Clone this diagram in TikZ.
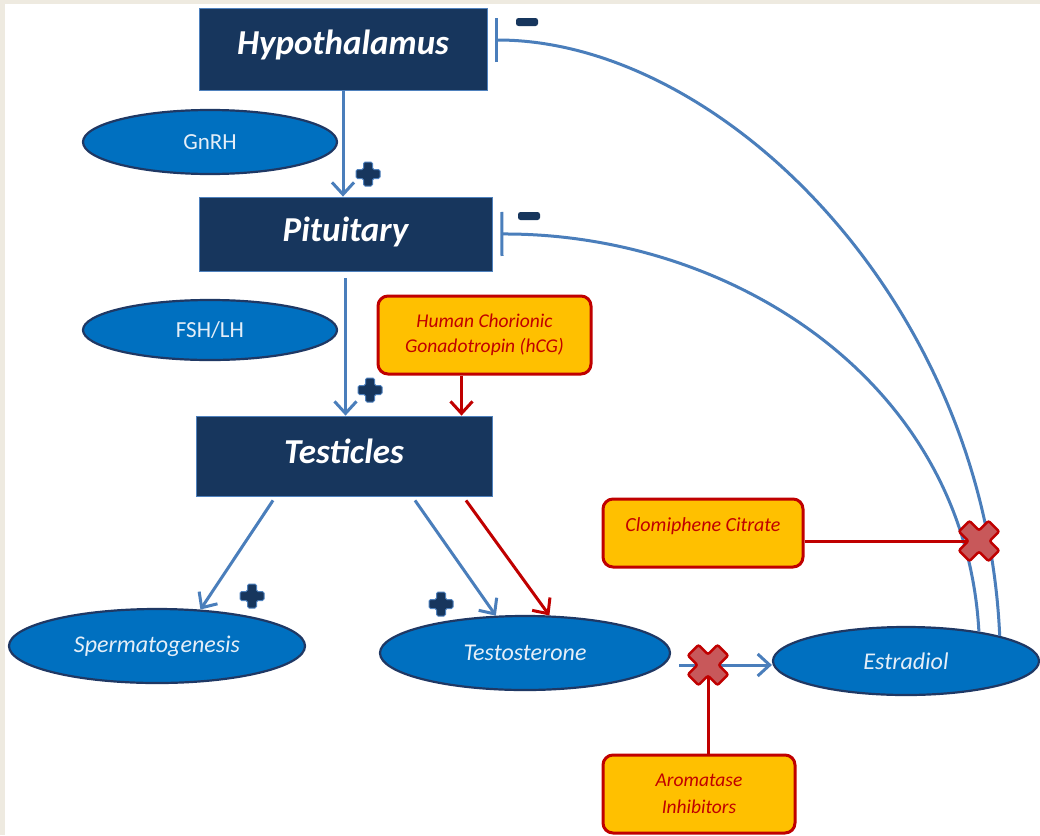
\documentclass[tikz,border=0pt]{standalone}
\usepackage{fontspec}
\setmainfont{Carlito}
\usetikzlibrary{arrows.meta,shapes.geometric,calc}
\definecolor{navy}{HTML}{17365D}
\definecolor{boxedge}{HTML}{4F81BD}
\definecolor{ellfill}{HTML}{0070C0}
\definecolor{elledge}{HTML}{1F3864}
\definecolor{elltext}{HTML}{E4EEF8}
\definecolor{blueline}{HTML}{4A7EBB}
\definecolor{redline}{HTML}{C00000}
\definecolor{orangefill}{HTML}{FFC000}
\definecolor{xfill}{HTML}{C8585A}
\definecolor{beige}{HTML}{EEEAE0}
\tikzset{
  organ/.style={rectangle,fill=navy,draw=boxedge,line width=0.8pt,text=white,
    font=\fontsize{35}{42}\selectfont\bfseries\itshape,inner sep=0pt},
  hormone/.style={ellipse,fill=ellfill,draw=elledge,line width=2.2pt,text=elltext,
    font=\fontsize{23}{27}\selectfont,inner sep=0pt},
  horit/.style={hormone,font=\fontsize{24}{28}\selectfont\itshape},
  drugbox/.style={rectangle,rounded corners=10pt,fill=orangefill,draw=redline,line width=3pt,
    text=redline,font=\fontsize{19.5}{25}\selectfont\itshape,align=center,inner sep=0pt},
  bluearrow/.style={draw=blueline,line width=3pt,-{Straight Barb[length=12pt,width=22pt]}},
  redarrow/.style={draw=redline,line width=3pt,-{Straight Barb[length=12pt,width=22pt]}},
  redlink/.style={draw=redline,line width=3pt},
  inhibit/.style={draw=blueline,line width=3pt,{Bar[width=44pt]}-},
  plussign/.pic={\filldraw[fill=navy,draw=boxedge,line width=1pt,rounded corners=1.5pt]
    (-4.5,-12) -- (4.5,-12) -- (4.5,-4.5) -- (12,-4.5) -- (12,4.5) -- (4.5,4.5) -- (4.5,12) -- (-4.5,12)
    -- (-4.5,4.5) -- (-12,4.5) -- (-12,-4.5) -- (-4.5,-4.5) -- cycle;},
  minussign/.pic={\fill[navy,rounded corners=2.5pt] (-11,-4) rectangle (11,4);},
  xmark/.pic={\filldraw[rotate=45,fill=xfill,draw=redline,line width=2.5pt,rounded corners=2pt]
    (-7.5,-21) -- (7.5,-21) -- (7.5,-7.5) -- (21,-7.5) -- (21,7.5) -- (7.5,7.5) -- (7.5,21) -- (-7.5,21)
    -- (-7.5,7.5) -- (-21,7.5) -- (-21,-7.5) -- (-7.5,-7.5) -- cycle;}
}
\begin{document}
\begin{tikzpicture}[x=1pt,y=-1pt]
\useasboundingbox (0,0) rectangle (1040,835);
\fill[beige] (0,0) rectangle (1040,835);
\fill[white] (5,4) rectangle (1040,835);

% organs
\node[organ,minimum width=288pt,minimum height=82pt,text depth=14pt] (hyp) at (343,49) {Hypothalamus};
\node[organ,minimum width=293pt,minimum height=74pt,text depth=10pt] (pit) at (345.5,234) {Pituitary};
\node[organ,minimum width=296pt,minimum height=80pt,text depth=10pt] (tes) at (344,456) {Testicles};

% hormones
\node[hormone,minimum width=254pt,minimum height=64pt] (gnrh) at (210,142) {GnRH};
\node[hormone,minimum width=254pt,minimum height=60pt] (fsh) at (210,330) {FSH/LH};
\node[horit,minimum width=296pt,minimum height=74pt] (sperm) at (157,646) {Spermatogenesis};
\node[horit,minimum width=290pt,minimum height=74pt] (testo) at (525,653) {Testosterone};
\node[horit,minimum width=266pt,minimum height=68pt] (est) at (906,661) {Estradiol};

% drugs
\node[drugbox,minimum width=213pt,minimum height=78pt] (hcg) at (484.5,335) {Human Chorionic\\Gonadotropin (hCG)};
\node[drugbox,minimum width=200pt,minimum height=68pt,text depth=16pt,font=\fontsize{20}{25}\selectfont\itshape] (clo) at (703,533) {Clomiphene Citrate};
\node[drugbox,minimum width=192pt,minimum height=78pt,font=\fontsize{19.5}{27}\selectfont\itshape] (aro) at (699,794) {Aromatase\\Inhibitors};

% stimulation arrows
\draw[bluearrow] (hyp.south) -- (hyp.south |- pit.north);
\draw[bluearrow] ([yshift=-7pt]pit.south) -- (pit.south |- tes.north);
\draw[redarrow] ([xshift=-23pt]hcg.south) -- ([xshift=-23pt]hcg.south |- tes.north);
\draw[bluearrow] ([xshift=-71pt,yshift=-4pt]tes.south) -- (sperm.40);
\draw[bluearrow] ([xshift=71pt,yshift=-4pt]tes.south) -- (testo.128);
\draw[redarrow] ([xshift=122pt,yshift=-4pt]tes.south) -- (testo.57);
\draw[bluearrow] ([xshift=8pt,yshift=-12pt]testo.east) -- ([yshift=-4pt]est.west);

% feedback
\draw[inhibit] ([xshift=8pt,yshift=9pt]hyp.east) .. controls (720,40) and (985,300) .. (est.15);
\draw[inhibit] ([xshift=8pt]pit.east) .. controls (730,233) and (965,380) .. (est.22);

% drug blocks
\coordinate (xa) at (708,665);
\coordinate (xb) at (979,541);
\draw[redlink] (aro.north -| xa) -- (xa);
\draw[redlink] ([yshift=-8pt]clo.east) -- (xb);
\pic at (xa) {xmark};
\pic at (xb) {xmark};

% signs
\pic at (368,174) {plussign};
\pic at (370,390) {plussign};
\pic at (252,596) {plussign};
\pic at (441,604) {plussign};
\pic at (527,22) {minussign};
\pic at (529,216) {minussign};
\end{tikzpicture}
\end{document}
